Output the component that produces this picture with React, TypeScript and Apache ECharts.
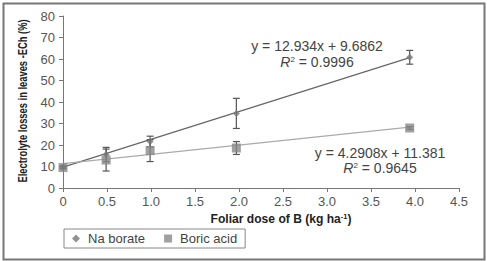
import React, { useEffect, useRef } from "react";
import * as echarts from "echarts";

const doses = [0, 0.49, 0.99, 1.97, 3.94];
const naBorate = [9.7, 15.6, 21.6, 34.7, 60.8];
const naBorateErr = [0.6, 3.3, 2.5, 7.0, 3.2];
const boricAcid = [9.5, 13.0, 17.4, 18.6, 27.9];
const boricAcidErr = [0.6, 5.1, 5.1, 3.0, 0.6];
const naTrend = { slope: 12.934, intercept: 9.6862 };
const boricTrend = { slope: 4.2908, intercept: 11.381 };
const xTicks = ["0", "0.5", "1.0", "1.5", "2.0", "2.5", "3.0", "3.5", "4.0", "4.5"];

const FONT = "'Liberation Sans', Arial, sans-serif";

function errorSeries(name: string, vals: number[], errs: number[], color: string) {
  return {
    type: "custom",
    name: name + "-err",
    z: 3,
    silent: true,
    data: doses.map((d, i) => [d, vals[i] - errs[i], vals[i] + errs[i]]),
    renderItem: (params: any, api: any) => {
      const x = api.value(0);
      const top = api.coord([x, api.value(2)]);
      const bot = api.coord([x, api.value(1)]);
      const w = 3.5;
      const style = { stroke: color, lineWidth: 1.2 };
      return {
        type: "group",
        children: [
          { type: "line", shape: { x1: top[0], y1: top[1], x2: bot[0], y2: bot[1] }, style },
          { type: "line", shape: { x1: top[0] - w, y1: top[1], x2: top[0] + w, y2: top[1] }, style },
          { type: "line", shape: { x1: bot[0] - w, y1: bot[1], x2: bot[0] + w, y2: bot[1] }, style },
        ],
      };
    },
  };
}

export default function App() {
  const ref = useRef<HTMLDivElement>(null);
  useEffect(() => {
    if (!ref.current) return;
    const chart = echarts.init(ref.current, null, { renderer: "svg" });
    const xEnd = doses[doses.length - 1];
    const option: any = {
      animation: false,
      backgroundColor: "#fff",
      grid: { left: 63, right: 28, top: 16, bottom: 73, containLabel: false },
      xAxis: {
        type: "value",
        min: 0,
        max: 4.5,
        interval: 0.5,
        axisLine: { lineStyle: { color: "#777", width: 1 } },
        axisTick: { show: true, length: 4, lineStyle: { color: "#777" } },
        splitLine: { show: false },
        axisLabel: {
          color: "#555",
          fontSize: 13,
          fontFamily: FONT,
          margin: 7,
          formatter: (v: number) => xTicks[Math.round(v / 0.5)] ?? "",
        },
      },
      yAxis: {
        type: "value",
        min: 0,
        max: 80,
        interval: 10,
        axisLine: { show: true, lineStyle: { color: "#777", width: 1 } },
        axisTick: { show: true, length: 4, lineStyle: { color: "#777" } },
        splitLine: { show: false },
        axisLabel: { color: "#555", fontSize: 13, fontFamily: FONT, margin: 8 },
      },
      legend: {
        left: 64,
        top: 229,
        data: [
          { name: "Na borate", icon: "diamond" },
          { name: "Boric acid", icon: "rect" },
        ],
        itemWidth: 8,
        itemHeight: 8,
        itemGap: 19,
        padding: [3, 8, 3, 8],
        borderColor: "#888",
        borderWidth: 1,
        textStyle: { color: "#444", fontSize: 13, fontFamily: FONT, padding: [0, 0, 0, 3] },
      },
      series: [
        {
          type: "line",
          name: "naTrend",
          z: 2,
          silent: true,
          symbol: "none",
          lineStyle: { color: "#666", width: 1.2 },
          data: [
            [0, naTrend.intercept],
            [xEnd, naTrend.slope * xEnd + naTrend.intercept],
          ],
        },
        {
          type: "line",
          name: "boricTrend",
          z: 2,
          silent: true,
          symbol: "none",
          lineStyle: { color: "#aaa", width: 1.2 },
          data: [
            [0, boricTrend.intercept],
            [xEnd, boricTrend.slope * xEnd + boricTrend.intercept],
          ],
        },
        errorSeries("Na borate", naBorate, naBorateErr, "#555"),
        errorSeries("Boric acid", boricAcid, boricAcidErr, "#555"),
        {
          type: "scatter",
          name: "Boric acid",
          z: 4,
          symbol: "rect",
          symbolSize: 9,
          itemStyle: { color: "#888" },
          data: doses.map((d, i) => [d, boricAcid[i]]),
        },
        {
          type: "scatter",
          name: "Na borate",
          z: 5,
          symbol: "diamond",
          symbolSize: 7,
          itemStyle: { color: "#777" },
          data: doses.map((d, i) => [d, naBorate[i]]),
        },
      ],
      graphic: [
        {
          type: "rect",
          left: 1,
          top: 1,
          shape: { width: 481, height: 256 },
          style: { fill: "none", stroke: "#777", lineWidth: 2 },
          silent: true,
        },
        {
          type: "text",
          x: 22,
          y: 101,
          rotation: Math.PI / 2,
          scaleX: 0.72,
          style: {
            text: "Electrolyte losses in leaves -ECh (%)",
            fill: "#222",
            font: "bold 13px " + FONT,
            align: "center",
            verticalAlign: "middle",
          },
        },
        {
          type: "text",
          x: 281,
          y: 219,
          scaleX: 0.93,
          style: {
            text: "Foliar dose of B (kg ha{sup|-1})",
            fill: "#222",
            font: "bold 13px " + FONT,
            align: "center",
            verticalAlign: "middle",
            rich: { sup: { fontSize: 8, fontWeight: "bold", fontFamily: FONT, verticalAlign: "top", padding: [0, 0, 6, 0] } },
          },
        },
        {
          type: "text",
          x: 317,
          y: 46,
          style: { text: "y = 12.934x + 9.6862", fill: "#444", font: "14px " + FONT, align: "center", verticalAlign: "middle" },
        },
        {
          type: "text",
          x: 317,
          y: 62,
          style: {
            text: "{i|R}{s|2} = 0.9996",
            fill: "#444",
            font: "14px " + FONT,
            align: "center",
            verticalAlign: "middle",
            rich: {
              i: { fontStyle: "italic", fontSize: 14, fontFamily: FONT, fill: "#444" },
              s: { fontSize: 8, fontFamily: FONT, fill: "#444", padding: [0, 0, 6, 0] },
            },
          },
        },
        {
          type: "text",
          x: 380,
          y: 153,
          style: { text: "y = 4.2908x + 11.381", fill: "#444", font: "14px " + FONT, align: "center", verticalAlign: "middle" },
        },
        {
          type: "text",
          x: 380,
          y: 168,
          style: {
            text: "{i|R}{s|2} = 0.9645",
            fill: "#444",
            font: "14px " + FONT,
            align: "center",
            verticalAlign: "middle",
            rich: {
              i: { fontStyle: "italic", fontSize: 14, fontFamily: FONT, fill: "#444" },
              s: { fontSize: 8, fontFamily: FONT, fill: "#444", padding: [0, 0, 6, 0] },
            },
          },
        },
      ],
    };
    chart.setOption(option);
    return () => chart.dispose();
  }, []);
  return (
    <div
      ref={ref}
      style={{ position: "fixed", left: 0, top: 0, width: 487, height: 261 }}
    />
  );
}
